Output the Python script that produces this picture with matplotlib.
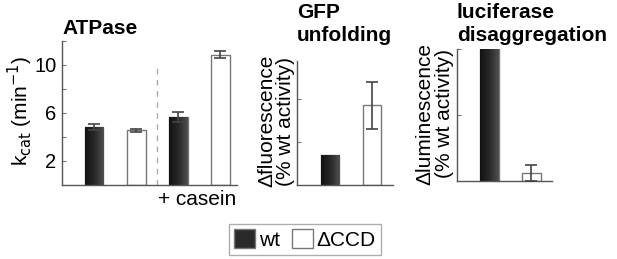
import numpy as np
import matplotlib
matplotlib.use("Agg")
import matplotlib.pyplot as plt
from matplotlib.patches import Patch
from matplotlib.colors import LinearSegmentedColormap

plt.rcParams['font.family'] = ['Liberation Sans', 'DejaVu Sans']

# ---- data ----
atp_labels = ["wt", "ΔCCD", "wt + casein", "ΔCCD + casein"]
atp_values = [4.85, 4.55, 5.65, 10.85]
atp_errors = [0.25, 0.15, 0.40, 0.30]
atp_yticks = [2, 4, 6, 8, 10, 12]
atp_yticklabels = ["2", "", "6", "", "10", ""]

gfp_values = [0.70, 1.87]
gfp_errors = [0.0, 0.55]

luc_values = [100.0, 6.0]
luc_errors = [0.0, 6.3]

legend_labels = ["wt", "ΔCCD"]

W, H = 617, 259
fig = plt.figure(figsize=(W / 100, H / 100), dpi=100)

dark_cmap = LinearSegmentedColormap.from_list("bar", ["#121212", "#282828", "#505050"])
edge_gray = "#777777"
err_color = "#444444"
FS = 15


def ax_px(l, r, top, bot):
    return [l / W, 1 - bot / H, (r - l) / W, (bot - top) / H]


def draw_bars(ax, xs, vals, errs, fills):
    bars = ax.bar(xs, vals, width=0.45, color=["#ffffff" if f == "w" else "#333333" for f in fills],
                  edgecolor=edge_gray, linewidth=1.0, zorder=2)
    grad = np.linspace(0, 1, 64).reshape(1, -1)
    for b, f in zip(bars, fills):
        if f == "d":
            x0, y0 = b.get_x(), b.get_y()
            im = ax.imshow(grad, cmap=dark_cmap, aspect="auto",
                           extent=[x0, x0 + b.get_width(), y0, y0 + b.get_height()], zorder=2.5)
            im.set_clip_path(b)
    for x, v, e in zip(xs, vals, errs):
        if e > 0:
            ax.errorbar([x], [v], yerr=[e], fmt="none", ecolor=err_color, elinewidth=1.2,
                        capsize=4, capthick=1.2, zorder=4)
    return bars


def style(ax):
    for s in ["top", "right"]:
        ax.spines[s].set_visible(False)
    for s in ["left", "bottom"]:
        ax.spines[s].set_color("#555555")
        ax.spines[s].set_linewidth(1.0)
    ax.tick_params(axis="y", direction="in", length=3, width=0.8, color="#777777",
                   labelsize=14.5, pad=4)
    ax.set_xticks([])


# ---- panel 1: ATPase ----
ax1 = fig.add_axes(ax_px(62, 237, 41, 185))
draw_bars(ax1, [0, 1, 2, 3], atp_values, atp_errors, ["d", "w", "d", "w"])
ax1.set_xlim(-0.76, 3.40)
ax1.set_ylim(0, 12)
ax1.set_yticks(atp_yticks)
ax1.set_yticklabels(atp_yticklabels)
ax1.plot([1.5, 1.5], [0, 10.1], linestyle=(0, (4, 4)), color="#aaaaaa", linewidth=1.0, zorder=1)
style(ax1)
ax1.text(2.45, -0.10, "+ casein", transform=ax1.get_xaxis_transform(), ha="center", va="center",
         fontsize=FS)
ax1.text(-0.24, 0.514, r"k$_{\mathrm{cat}}$ (min$^{\mathrm{-1}}$)", transform=ax1.transAxes,
         rotation=90, ha="center", va="center", fontsize=FS)
fig.text(62 / W, 1 - 19 / H, "ATPase", ha="left", va="top", fontsize=FS, fontweight="bold")

# ---- panel 2: GFP unfolding ----
ax2 = fig.add_axes(ax_px(297, 393, 61, 185))
draw_bars(ax2, [0, 1], gfp_values, gfp_errors, ["d", "w"])
ax2.set_xlim(-0.786, 1.5)
ax2.set_ylim(0, 2.9)
ax2.set_yticks([1, 2])
ax2.set_yticklabels([])
style(ax2)
ax2.text(-0.22, 0.516, "Δfluorescence\n(% wt activity)", transform=ax2.transAxes,
         rotation=90, ha="center", va="center", fontsize=FS, linespacing=1.0)
fig.text(297 / W, 1 - 3 / H, "GFP\nunfolding", ha="left", va="top", fontsize=FS,
         fontweight="bold", linespacing=1.25)

# ---- panel 3: luciferase disaggregation ----
ax3 = fig.add_axes(ax_px(457, 552, 49, 181))
draw_bars(ax3, [0, 1], luc_values, luc_errors, ["d", "w"])
ax3.set_xlim(-0.77, 1.49)
ax3.set_ylim(0, 100)
ax3.set_yticks([50, 100])
ax3.set_yticklabels([])
style(ax3)
ax3.text(-0.235, 0.51, "Δluminescence\n(% wt activity)", transform=ax3.transAxes,
         rotation=90, ha="center", va="center", fontsize=FS, linespacing=1.0)
fig.text(457 / W, 1 - 3 / H, "luciferase\ndisaggregation", ha="left", va="top", fontsize=FS,
         fontweight="bold", linespacing=1.25)

# ---- legend ----
handles = [Patch(facecolor="#2a2a2a", edgecolor=edge_gray),
           Patch(facecolor="#ffffff", edgecolor=edge_gray)]
leg = fig.legend(handles, legend_labels, loc="upper left", bbox_to_anchor=(229 / W, 1 - 224 / H),
                 ncol=2, fontsize=FS, frameon=True, fancybox=False, handlelength=1.0,
                 handleheight=1.0, handletextpad=0.2, columnspacing=0.55, borderpad=0.25,
                 borderaxespad=0)
leg.get_frame().set_edgecolor("#999999")
leg.get_frame().set_linewidth(1.0)

fig.savefig("out.png", dpi=100)
